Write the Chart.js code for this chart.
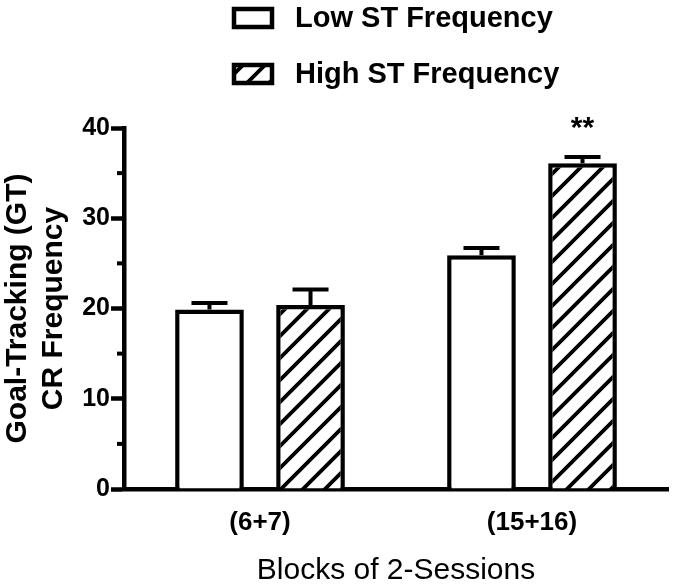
<!DOCTYPE html>
<html>
<head>
<meta charset="utf-8">
<script src="https://cdn.jsdelivr.net/npm/chart.js@4.4.1/dist/chart.umd.min.js"></script>
<style>
  html, body { margin: 0; padding: 0; background: #fff; }
  #wrap { width: 675px; height: 588px; }
</style>
</head>
<body>
<div id="wrap"><canvas id="gtChart" width="675" height="588"></canvas></div>
<script>
// ---------- DATA ----------
const blocks = ["(6+7)", "(15+16)"];
const lowST = [19.9, 25.9];
const lowSEM = [0.7, 0.8];
const highST = [20.4, 36.1];
const highSEM = [1.7, 0.7];
const highSig = ["", "**"];
const yTicks = [0, 10, 20, 30, 40];
const yMinorTicks = [5, 15, 25, 35];

const FONT = "'Liberation Sans', Arial, Helvetica, sans-serif";

const canvas = document.getElementById("gtChart");
const ctx = canvas.getContext("2d");

// diagonal hatch for the High ST bars
function makeHatch() {
  const s = 22;
  const c = document.createElement("canvas");
  c.width = s;
  c.height = s;
  const g = c.getContext("2d");
  g.fillStyle = "#fff";
  g.fillRect(0, 0, s, s);
  g.strokeStyle = "#000";
  g.lineWidth = 3.8;
  g.beginPath();
  g.moveTo(0, s); g.lineTo(s, 0);
  g.moveTo(-4, 4); g.lineTo(4, -4);
  g.moveTo(s - 4, s + 4); g.lineTo(s + 4, s - 4);
  g.stroke();
  return ctx.createPattern(c, "repeat");
}
const hatch = makeHatch();

// ---------- PLUGINS ----------
const errorBars = {
  id: "errorBars",
  afterDatasetsDraw(chart) {
    const c = chart.ctx;
    const yScale = chart.scales.y;
    c.save();
    c.strokeStyle = "#000";
    c.lineWidth = 4;
    chart.data.datasets.forEach((ds, di) => {
      const meta = chart.getDatasetMeta(di);
      meta.data.forEach((bar, i) => {
        const top = yScale.getPixelForValue(ds.data[i] + ds.sem[i]);
        c.beginPath();
        c.moveTo(bar.x, bar.y);
        c.lineTo(bar.x, top);
        c.moveTo(bar.x - 18, top);
        c.lineTo(bar.x + 18, top);
        c.stroke();
        if (ds.sig && ds.sig[i]) {
          c.fillStyle = "#000";
          c.font = "bold 30px " + FONT;
          c.textAlign = "center";
          c.textBaseline = "alphabetic";
          c.fillText(ds.sig[i], bar.x, top - 20);
        }
      });
    });
    c.restore();
  }
};

const minorTicks = {
  id: "minorTicks",
  afterDraw(chart) {
    const s = chart.scales.y;
    const c = chart.ctx;
    c.save();
    c.strokeStyle = "#000";
    c.lineWidth = 4;
    yMinorTicks.forEach(v => {
      const py = s.getPixelForValue(v);
      c.beginPath();
      c.moveTo(s.right - 7, py);
      c.lineTo(s.right, py);
      c.stroke();
    });
    c.restore();
  }
};

const stackedLegend = {
  id: "stackedLegend",
  afterDraw(chart) {
    const c = chart.ctx;
    c.save();
    chart.data.datasets.forEach((ds, i) => {
      const top = 9 + i * 56;
      c.fillStyle = ds.backgroundColor;
      c.fillRect(234, top, 38, 18);
      c.strokeStyle = "#000";
      c.lineWidth = 4.5;
      c.strokeRect(234, top, 38, 18);
      c.fillStyle = "#000";
      c.font = "bold 29px " + FONT;
      c.textAlign = "left";
      c.textBaseline = "middle";
      c.fillText(ds.label, 295, top + 10);
    });
    c.restore();
  }
};

// ---------- CHART ----------
new Chart(ctx, {
  type: "bar",
  data: {
    labels: blocks,
    datasets: [
      {
        label: "Low ST Frequency",
        data: lowST,
        sem: lowSEM,
        backgroundColor: "#fff",
        borderColor: "#000",
        borderWidth: 4.5,
      },
      {
        label: "High ST Frequency",
        data: highST,
        sem: highSEM,
        sig: highSig,
        backgroundColor: hatch,
        borderColor: "#000",
        borderWidth: 4.5,
      },
    ],
  },
  options: {
    responsive: false,
    animation: false,
    categoryPercentage: 0.743,
    barPercentage: 0.68,
    layout: { padding: { top: 128, right: 7, left: 0, bottom: 0 } },
    plugins: {
      legend: { display: false },
      tooltip: { enabled: false },
    },
    scales: {
      x: {
        afterFit: s => { s.height = 99; },
        grid: { display: false },
        border: { color: "#000", width: 4.5 },
        ticks: {
          color: "#000",
          font: { family: FONT, size: 26, weight: "bold" },
          padding: 10,
        },
        title: {
          display: true,
          text: "Blocks of 2-Sessions",
          color: "#000",
          font: { family: FONT, size: 30, lineHeight: 1 },
          padding: { top: 0, bottom: 2 },
        },
      },
      y: {
        min: 0,
        max: 40,
        afterFit: s => { s.width = 124; },
        afterBuildTicks: s => { s.ticks = yTicks.map(v => ({ value: v })); },
        ticks: {
          color: "#000",
          font: { family: FONT, size: 25, weight: "bold" },
          padding: 1,
        },
        grid: {
          drawOnChartArea: false,
          drawTicks: true,
          tickLength: 13,
          tickWidth: 4.5,
          tickColor: "#000",
        },
        border: { color: "#000", width: 4.5 },
        title: {
          display: true,
          text: ["Goal-Tracking (GT)", "CR Frequency"],
          color: "#000",
          font: { family: FONT, size: 30, weight: "bold", lineHeight: 1.2 },
          padding: { top: 0, bottom: 0 },
        },
      },
    },
  },
  plugins: [errorBars, minorTicks, stackedLegend],
});
</script>
</body>
</html>
